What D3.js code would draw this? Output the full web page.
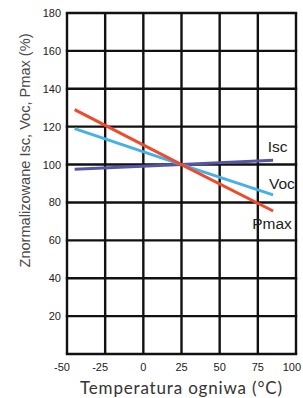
<!DOCTYPE html>
<html>
<head>
<meta charset="utf-8">
<script src="https://cdn.jsdelivr.net/npm/d3@7"></script>
<style>
  html, body { margin: 0; padding: 0; background: #fff; }
  svg { display: block; }
</style>
</head>
<body>
<div id="chart"></div>
<script>
// temperatura ogniwa (°C) i znormalizowane wartości (%)
const temps = [-45, 25, 85];
const iscValues = [97.5, 100, 102.3];
const vocValues = [119, 100, 84];
const pmaxValues = [129, 100, 75.5];

const xTicks = [-50, -25, 0, 25, 50, 75, 100];
const yTicks = [20, 40, 60, 80, 100, 120, 140, 160, 180];
const yGrid = [0, 20, 40, 60, 80, 100, 120, 140, 160, 180];

const series = [
  { name: 'Isc', values: iscValues, color: '#5656a6' },
  { name: 'Voc', values: vocValues, color: '#46b1e6' },
  { name: 'Pmax', values: pmaxValues, color: '#ee4b2b' }
];

const width = 303, height = 398;
const margin = { top: 13, right: 7, bottom: 44, left: 67 };

const svg = d3.select('#chart')
  .append('svg')
  .attr('width', width)
  .attr('height', height);

const x = d3.scaleLinear().domain([-50, 100]).range([margin.left, width - margin.right]);
const y = d3.scaleLinear().domain([0, 180]).range([height - margin.bottom, margin.top]);

// siatka
const grid = svg.append('g').attr('stroke', '#111').attr('stroke-width', 2.4);
grid.selectAll('.vline').data(xTicks).enter().append('line')
  .attr('x1', d => x(d)).attr('x2', d => x(d))
  .attr('y1', y(0)).attr('y2', y(180));
grid.selectAll('.hline').data(yGrid).enter().append('line')
  .attr('x1', x(-50) - 1.2).attr('x2', x(100) + 1.2)
  .attr('y1', d => y(d)).attr('y2', d => y(d));

// etykiety osi
svg.append('g').selectAll('text').data(yTicks).enter().append('text')
  .attr('x', x(-50) - 6)
  .attr('y', d => y(d) + 4)
  .attr('text-anchor', 'end')
  .style('font-family', 'Liberation Sans, Arial, sans-serif')
  .style('font-size', '11px')
  .style('fill', '#222')
  .text(d => d);

svg.append('g').selectAll('text').data(xTicks).enter().append('text')
  .attr('x', d => d < 0 ? x(d) - 5 : (d === 100 ? width - 2 : x(d)))
  .attr('y', y(0) + 17)
  .attr('text-anchor', d => d === 100 ? 'end' : 'middle')
  .style('font-family', 'Liberation Sans, Arial, sans-serif')
  .style('font-size', '11px')
  .style('fill', '#222')
  .text(d => d);

// linie
const line = d3.line()
  .x((d, i) => x(temps[i]))
  .y(d => y(d));

svg.append('g').selectAll('path').data(series).enter().append('path')
  .attr('d', d => line(d.values))
  .attr('fill', 'none')
  .attr('stroke', d => d.color)
  .attr('stroke-width', 3);

// etykiety serii
const labelPos = { Isc: [88, 106.6], Voc: [90.8, 87.1], Pmax: [84.3, 66] };
svg.append('g').selectAll('text').data(series).enter().append('text')
  .attr('x', d => x(labelPos[d.name][0]))
  .attr('y', d => y(labelPos[d.name][1]))
  .attr('text-anchor', 'middle')
  .style('font-family', 'Liberation Sans, Arial, sans-serif')
  .style('font-size', '15.5px')
  .style('fill', '#222')
  .text(d => d.name);

// tytuły osi
svg.append('text')
  .attr('transform', 'translate(30, 150.5) rotate(-90)')
  .attr('text-anchor', 'middle')
  .attr('textLength', 234)
  .attr('lengthAdjust', 'spacingAndGlyphs')
  .style('font-family', 'Liberation Sans, Arial, sans-serif')
  .style('font-size', '14.8px')
  .style('fill', '#4a4a4a')
  .text('Znormalizowane Isc, Voc, Pmax (%)');

svg.append('text')
  .attr('x', 181)
  .attr('y', 394)
  .attr('text-anchor', 'middle')
  .attr('textLength', 202)
  .attr('lengthAdjust', 'spacing')
  .style('font-family', 'Lato, sans-serif')
  .style('font-size', '17px')
  .style('fill', '#333')
  .text('Temperatura ogniwa (°C)');
</script>
</body>
</html>
